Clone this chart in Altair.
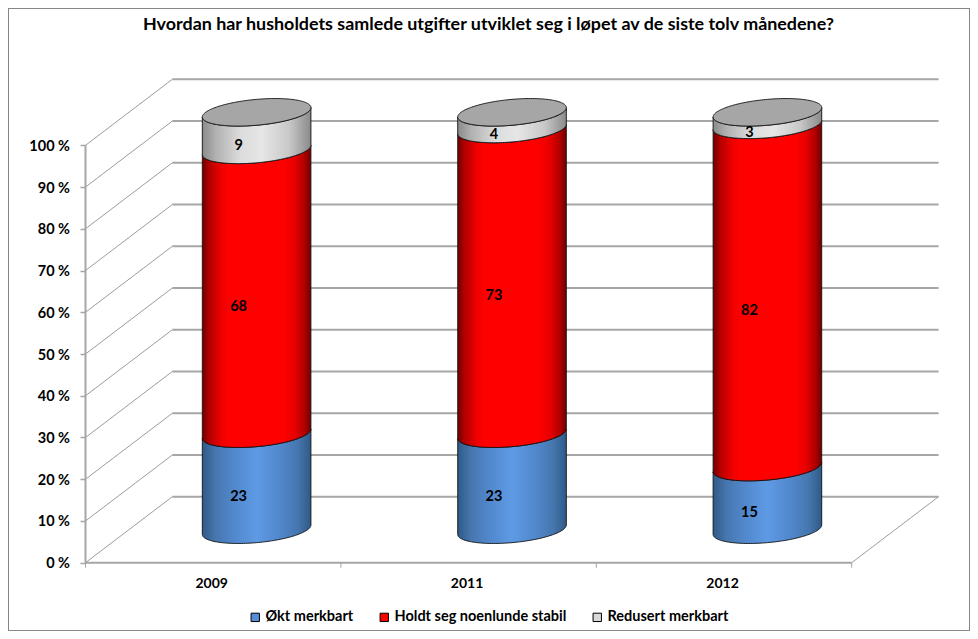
import math
import altair as alt
import pandas as pd

categories = ["2009", "2011", "2012"]
series_names = ["Økt merkbart", "Holdt seg noenlunde stabil", "Redusert merkbart"]
okt = [23, 23, 15]
holdt = [68, 73, 82]
redusert = [9, 4, 3]
ticks = list(range(0, 101, 10))
legend_colors = ["#558ed5", "#ff0000", "#d9d9d9"]

# Oblique projection of the 3D chart, in data units
PX_X, PX_Y = 255.4, 4.174      # pixels per category, pixels per percent
DEPTH_X, DEPTH_Y = 0.34, 15.81  # depth of the chart box
RAD_X, RAD_Y, TILT = 0.2126, 3.1, 1.13  # ellipse of a cylinder
W, H = 962, 623
x_dom = [-(85.5 - 8) / PX_X, (8 + W - 85.5) / PX_X]
y_dom = [-(8 + H - 562.7) / PX_Y, (562.7 - 8) / PX_Y]


def grad(stops):
    return alt.Gradient(
        gradient="linear", x1=0, x2=1, y1=0, y2=0,
        stops=[alt.GradientStop(offset=o, color=c) for o, c in stops],
    )


fills = {
    series_names[0]: grad([(0, "#2f5a88"), (0.12, "#4676ae"), (0.3, "#5289ce"), (0.5, "#5e9ae4"),
                           (0.7, "#5289ce"), (0.88, "#4676ae"), (1, "#2f5a88")]),
    series_names[1]: grad([(0, "#700000"), (0.06, "#b00000"), (0.18, "#f00000"), (0.25, "#ff0000"),
                           (0.75, "#ff0000"), (0.85, "#e80000"), (0.94, "#b00000"), (1, "#700000")]),
    series_names[2]: grad([(0, "#8a8a8a"), (0.12, "#b0b0b0"), (0.35, "#dcdcdc"), (0.55, "#e6e6e6"),
                           (0.8, "#c8c8c8"), (1, "#8a8a8a")]),
}

X = alt.X("x:Q", scale=alt.Scale(domain=x_dom, nice=False, zero=False), title=None,
          axis=alt.Axis(values=[0.5, 1.5, 2.5], labelExpr="['2009','2011','2012'][floor(datum.value)]",
                        ticks=False, domain=False, grid=False, offset=-(8 + H - 562.7), labelPadding=14,
                        labelFont="Lato", labelFontWeight="bold", labelFontSize=14, labelColor="black",
                        labelOffset=-2))
Y = alt.Y("y:Q", scale=alt.Scale(domain=y_dom, nice=False, zero=False), title=None,
          axis=alt.Axis(values=ticks, labelExpr="datum.value + ' %'", domain=False, grid=False,
                        offset=-77.5, tickSize=5.5, tickColor="#a6a6a6", tickWidth=1.5, labelPadding=10.5,
                        labelFont="Lato", labelFontWeight="bold", labelFontSize=14.5, labelColor="black",
                        labelOffset=1))

segments, labels, tops = [], [], []
for i, cat in enumerate(categories):
    cx = i + 0.5 + DEPTH_X / 2
    lift = DEPTH_Y / 2
    base = 0
    for name, vals in zip(series_names, [okt, holdt, redusert]):
        v = vals[i]
        for k in range(0, 91):
            u = -math.cos(math.pi * k / 90)
            s = RAD_Y * math.sqrt(max(0, 1 - u * u))
            segments.append({
                "cat": cat, "series": name, "x": cx + RAD_X * u,
                "y": base + lift + TILT * u - s,
                "y2": base + v + lift + TILT * u - s,
            })
        labels.append({"x": cx - 18 / PX_X, "y": base + v / 2 + lift - RAD_Y - 0.45, "v": v, "series": name})
        base += v
    for k in range(0, 91):
        u = -math.cos(math.pi * k / 90)
        s = RAD_Y * math.sqrt(max(0, 1 - u * u))
        tops.append({"cat": cat, "x": cx + RAD_X * u, "y": base + lift + TILT * u - s, "y2": base + lift + TILT * u + s})
segments = pd.DataFrame(segments)
labels = pd.DataFrame(labels)
tops = pd.DataFrame(tops)

back_left = DEPTH_X
back_right = 3 + DEPTH_X
horiz = pd.DataFrame([{"x": back_left, "x2": back_right, "y": t + DEPTH_Y, "y2": t + DEPTH_Y} for t in ticks]
                     + [{"x": 0, "x2": 3, "y": 0, "y2": 0}, {"x": 0, "x2": 0, "y": 0, "y2": 100}])
diag = pd.DataFrame([{"x": 0, "x2": back_left, "y": t, "y2": t + DEPTH_Y} for t in ticks]
                    + [{"x": 3, "x2": back_right, "y": 0, "y2": DEPTH_Y}])
xticks = pd.DataFrame([{"x": t, "y": 0, "y2": -1.2} for t in range(4)])

layers = [
    alt.Chart(horiz).mark_rule(color="#a6a6a6", strokeWidth=2).encode(x=X, x2="x2:Q", y=Y, y2="y2:Q"),
    alt.Chart(diag).mark_rule(color="#9c9c9c", strokeWidth=1).encode(x=X, x2="x2:Q", y=Y, y2="y2:Q"),
    alt.Chart(xticks).mark_rule(color="#a6a6a6", strokeWidth=1).encode(x=X, y=Y, y2="y2:Q"),
    alt.Chart(labels).mark_square(size=1, opacity=1).encode(
        x=X, y=Y,
        color=alt.Color("series:N", scale=alt.Scale(domain=series_names, range=legend_colors),
                        legend=alt.Legend(title=None, orient="none", direction="horizontal", columns=3,
                                          legendX=240, legendY=602, symbolType="square", symbolSize=70,
                                          symbolStrokeColor="black", symbolStrokeWidth=1, columnPadding=23,
                                          labelFont="Lato", labelFontWeight="bold", labelFontSize=14.5,
                                          labelColor="black", gridAlign="each", labelOffset=3, labelLimit=400)),
    ),
]
for name in series_names:
    layers.append(
        alt.Chart(segments[segments.series == name]).mark_area(
            fill=fills[name], stroke="#101010", strokeWidth=0.9, interpolate="linear", opacity=1
        ).encode(x=X, y=Y, y2="y2:Q", detail="cat:N")
    )
layers.append(
    alt.Chart(tops).mark_area(fill="#a6a6a6", stroke="#101010", strokeWidth=0.9, interpolate="linear").encode(
        x=X, y=Y, y2="y2:Q", detail="cat:N")
)
layers.append(
    alt.Chart(labels).mark_text(font="Lato", fontWeight="bold", fontSize=14.5, color="black").encode(
        x=X, y=Y, text="v:Q")
)

chart = alt.layer(*layers).properties(
    width=W, height=H, padding=0, background="white",
    autosize=alt.AutoSizeParams(type="none"),
    title=alt.TitleParams(
        "Hvordan har husholdets samlede utgifter utviklet seg i løpet av de siste tolv månedene?",
        font="Lato", fontWeight="bold", fontSize=17.9, color="black", anchor="middle", offset=-26, dx=-0.5,
    ),
).configure_view(stroke="#868686", strokeWidth=2)

chart.save("out.html", embed_options={"renderer": "svg", "actions": False})
